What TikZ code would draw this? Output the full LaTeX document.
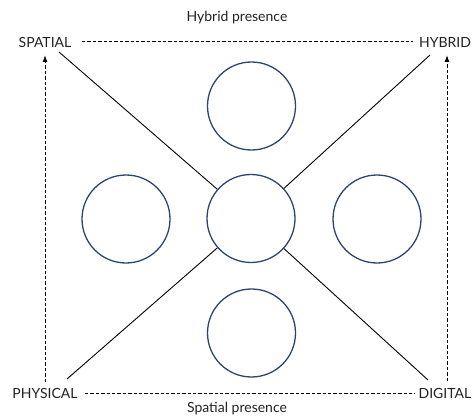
\documentclass[tikz,border=0pt]{standalone}
\usepackage{fontspec}
\setmainfont{Lato}
\usetikzlibrary{arrows.meta}
\definecolor{navy}{HTML}{2B4470}
\definecolor{txt}{HTML}{222222}
\begin{document}
\begin{tikzpicture}[x=1pt,y=-1pt,
  lbl/.style={text=txt,font=\fontsize{14}{16}\selectfont,inner sep=2pt},
  ttl/.style={text=txt,font=\fontsize{14}{16}\selectfont,inner sep=0pt},
  ring/.style={circle,draw=navy,line width=1.3pt,minimum size=88pt,inner sep=0pt},
  dline/.style={draw=black,line width=1pt,dash pattern=on 3.4pt off 2pt},
  diag/.style={draw=black,line width=0.9pt},
  up/.style={dline,-{Latex[length=7pt,width=5pt]}}]
\useasboundingbox (0,0) rectangle (474,420);
\node[ttl] (ht) at (237,18) {Hybrid presence};
\node[ttl] (st) at (237,409) {Spatial presence};
\node[lbl] (sp) at (45,42) {SPATIAL};
\node[lbl] (hy) at (445,42) {HYBRID};
\node[lbl] (ph) at (45,393) {PHYSICAL};
\node[lbl] (di) at (445,393) {DIGITAL};
\node[ring] (top) at (251.5,106) {};
\node[ring] (lft) at (126,219) {};
\node[ring] (rgt) at (377,219) {};
\node[ring] (bot) at (251.5,333) {};
\node[ring] (cc) at (251,218.5) {};
\coordinate (a1) at (59,52);
\coordinate (a2) at (430,55);
\coordinate (a3) at (67,379);
\coordinate (a4) at (428,380);
\coordinate (l0) at (45,382);
\coordinate (l1) at (45,55);
\coordinate (r0) at (447,381);
\coordinate (r1) at (447,55);
\coordinate (t0) at (82,42);
\coordinate (t1) at (413,42);
\coordinate (b0) at (85,393);
\coordinate (b1) at (415,393);
\draw[dline] (t0) -- (t1);
\draw[dline] (b0) -- (b1);
\draw[up] (l0) -- (l1);
\draw[up] (r0) -- (r1);
\draw[diag] (a1) -- (cc);
\draw[diag] (a2) -- (cc);
\draw[diag] (a3) -- (cc);
\draw[diag] (a4) -- (cc);
\end{tikzpicture}
\end{document}
